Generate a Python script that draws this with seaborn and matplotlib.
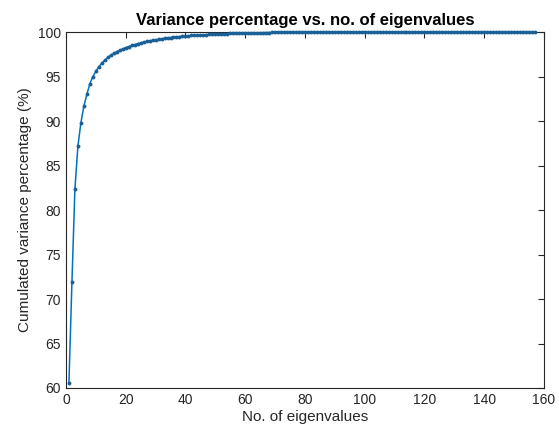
import matplotlib
matplotlib.use("Agg")
import matplotlib.pyplot as plt
import seaborn as sns
import pandas as pd

# Cumulated variance percentage, one per eigenvalue count 1..157
variance_head = [
    60.6, 71.9, 82.4, 87.2, 89.8, 91.7, 93.0, 94.2, 95.0, 95.6,
    96.1, 96.5, 96.85, 97.15, 97.4, 97.6, 97.8, 97.95, 98.1, 98.25,
    98.38, 98.5, 98.6, 98.7, 98.79, 98.87, 98.95, 99.02, 99.08, 99.14,
    99.2, 99.25, 99.3, 99.35, 99.39, 99.43, 99.47, 99.5, 99.53, 99.56,
    99.59, 99.62, 99.64, 99.66, 99.68, 99.7, 99.72, 99.74, 99.76, 99.78,
    99.79, 99.81, 99.82, 99.83, 99.85, 99.86, 99.87, 99.88, 99.89, 99.9,
    99.91, 99.92, 99.92, 99.93, 99.94, 99.94, 99.95, 99.95, 99.96, 99.96,
    99.96, 99.97, 99.97, 99.97, 99.98, 99.98, 99.98, 99.98, 99.99, 99.99,
]
variance_tail = [
    99.99, 99.99, 99.99, 99.99, 99.99, 99.99, 99.99, 99.99, 99.99, 99.99,
    99.99, 99.99, 99.99, 99.99, 99.99, 99.99, 99.99, 99.99, 99.99, 99.99,
    100.0, 100.0, 100.0, 100.0, 100.0, 100.0, 100.0, 100.0, 100.0, 100.0,
    100.0, 100.0, 100.0, 100.0, 100.0, 100.0, 100.0, 100.0, 100.0, 100.0,
    100.0, 100.0, 100.0, 100.0, 100.0, 100.0, 100.0, 100.0, 100.0, 100.0,
    100.0, 100.0, 100.0, 100.0, 100.0, 100.0, 100.0, 100.0, 100.0, 100.0,
    100.0, 100.0, 100.0, 100.0, 100.0, 100.0, 100.0, 100.0, 100.0, 100.0,
    100.0, 100.0, 100.0, 100.0, 100.0, 100.0, 100.0,
]
variance = variance_head + variance_tail
n_eigen = list(range(1, len(variance) + 1))

x_ticks = [0, 20, 40, 60, 80, 100, 120, 140, 160]
y_ticks = [60, 65, 70, 75, 80, 85, 90, 95, 100]

title = "Variance percentage vs. no. of eigenvalues"
x_label = "No. of eigenvalues"
y_label = "Cumulated variance percentage (%)"

sns.set_style("white")
plt.rcParams["font.family"] = ["Liberation Sans", "DejaVu Sans"]

df = pd.DataFrame({"n": n_eigen, "v": variance})

fig = plt.figure(figsize=(5.59, 4.34), dpi=100)
ax = fig.add_axes([0.118, 0.106, 0.855, 0.820])

sns.lineplot(data=df, x="n", y="v", ax=ax, color="#0072BD", linewidth=1.1,
             marker="o", markersize=2.8, markeredgewidth=0,
             markerfacecolor="#1a5f96", clip_on=False, zorder=3)

ax.set_xlim(0, 160)
ax.set_ylim(60, 100)
ax.set_xticks(x_ticks)
ax.set_yticks(y_ticks)
ax.tick_params(direction="in", length=4, width=0.8, colors="#262626",
               labelsize=10, top=True, right=True, labelcolor="#262626")
for s in ax.spines.values():
    s.set_visible(True)
    s.set_color("#262626")
    s.set_linewidth(0.8)
    s.set_zorder(2)

ax.set_title(title, fontsize=12, fontweight="bold", color="black", pad=5)
ax.set_xlabel(x_label, fontsize=11, color="#262626", labelpad=2)
ax.set_ylabel(y_label, fontsize=11, color="#262626", labelpad=4)

fig.savefig("out.png", dpi=100)
